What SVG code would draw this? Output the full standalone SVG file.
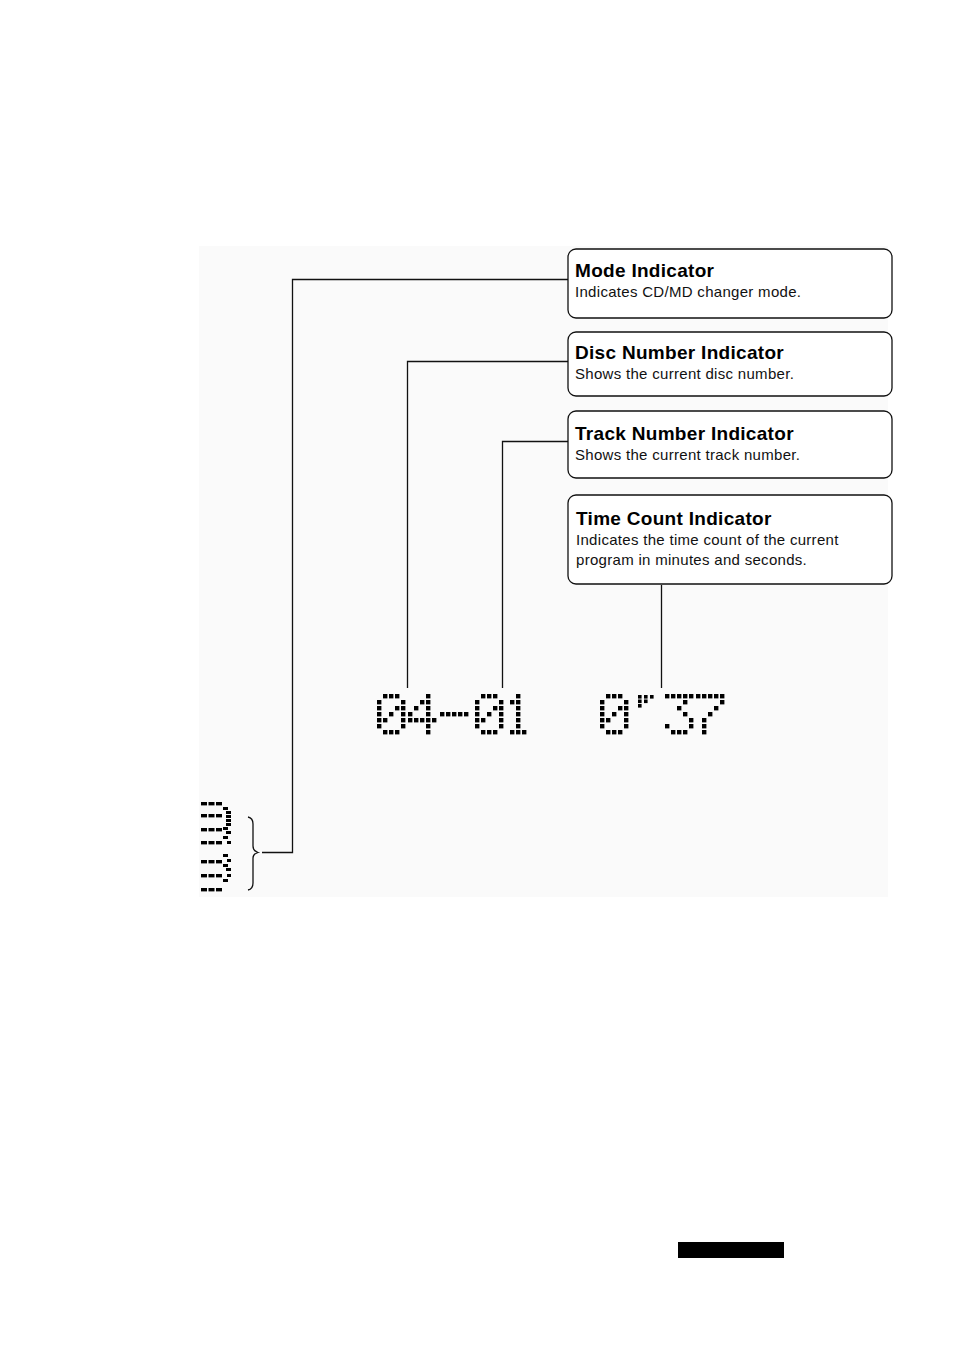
<svg xmlns="http://www.w3.org/2000/svg" width="954" height="1350" viewBox="0 0 954 1350">
<style>
.box{fill:#ffffff;stroke:#111;stroke-width:1.3}
.title{font-family:"Liberation Sans",Arial,sans-serif;font-weight:bold;font-size:19px;letter-spacing:0.3px;fill:#000}
.sub{font-family:"Liberation Sans",Arial,sans-serif;font-size:15px;letter-spacing:0.3px;fill:#111}
.ln{fill:none;stroke:#111;stroke-width:1.3}
.d{fill:#000}
</style>
<defs>
<rect id="p" class="d" width="4.4" height="4.4"/>
<rect id="q" class="d" width="3.6" height="3.6"/>
<g id="dash3"><rect class="d" x="0" y="0" width="6" height="3.4"/><rect class="d" x="7.5" y="0" width="6" height="3.4"/><rect class="d" x="15" y="0" width="6" height="3.4"/></g>
<g id="zero">
<use href="#p" x="6" y="0"/><use href="#p" x="12" y="0"/><use href="#p" x="18" y="0"/>
<use href="#p" x="0" y="6"/><use href="#p" x="24" y="6"/>
<use href="#p" x="0" y="12"/><use href="#p" x="18" y="12"/><use href="#p" x="24" y="12"/>
<use href="#p" x="0" y="18"/><use href="#p" x="12" y="18"/><use href="#p" x="24" y="18"/>
<use href="#p" x="0" y="24"/><use href="#p" x="6" y="24"/><use href="#p" x="24" y="24"/>
<use href="#p" x="0" y="30"/><use href="#p" x="24" y="30"/>
<use href="#p" x="6" y="36"/><use href="#p" x="12" y="36"/><use href="#p" x="18" y="36"/>
</g>
</defs>
<rect x="0" y="0" width="954" height="1350" fill="#ffffff"/>
<rect x="199" y="246" width="689" height="651" fill="#fafafa"/>

<g id="connectors">
<polyline class="ln" points="568,279.5 292.5,279.5 292.5,852.5 262,852.5"/>
<polyline class="ln" points="568,361.5 407.5,361.5 407.5,688"/>
<polyline class="ln" points="568,441.5 502.5,441.5 502.5,688"/>
<line class="ln" x1="661.5" y1="585" x2="661.5" y2="688"/>
<path class="ln" d="M248,817 Q253,818 253,824 L253,846 Q253,851 258,852.5 Q253,854 253,858 L253,883 Q253,889 248,890"/>
</g>

<g id="mode-indicator">
<rect class="box" x="568" y="249" width="324" height="69" rx="8"/>
<text class="title" x="575" y="277">Mode Indicator</text>
<text class="sub" x="575" y="297">Indicates CD/MD changer mode.</text>
</g>
<g id="disc-number-indicator">
<rect class="box" x="568" y="332" width="324" height="64" rx="8"/>
<text class="title" x="575" y="359">Disc Number Indicator</text>
<text class="sub" x="575" y="379">Shows the current disc number.</text>
</g>
<g id="track-number-indicator">
<rect class="box" x="568" y="411" width="324" height="67" rx="8"/>
<text class="title" x="575" y="440">Track Number Indicator</text>
<text class="sub" x="575" y="460">Shows the current track number.</text>
</g>
<g id="time-count-indicator">
<rect class="box" x="568" y="495" width="324" height="89" rx="8"/>
<text class="title" x="576" y="525">Time Count Indicator</text>
<text class="sub" x="576" y="545">Indicates the time count of the current</text>
<text class="sub" x="576" y="565">program in minutes and seconds.</text>
</g>

<g id="display">
<use href="#zero" x="377" y="694"/>
<g id="four">
<use href="#p" x="426" y="694"/>
<use href="#p" x="420" y="700"/><use href="#p" x="426" y="700"/>
<use href="#p" x="414" y="706"/><use href="#p" x="426" y="706"/>
<use href="#p" x="408" y="712"/><use href="#p" x="426" y="712"/>
<use href="#p" x="408" y="718"/><use href="#p" x="414" y="718"/><use href="#p" x="420" y="718"/><use href="#p" x="426" y="718"/><use href="#p" x="432" y="718"/>
<use href="#p" x="426" y="724"/>
<use href="#p" x="426" y="730"/>
</g>
<g id="hyphen">
<use href="#p" x="440" y="712"/><use href="#p" x="446" y="712"/><use href="#p" x="452" y="712"/><use href="#p" x="458" y="712"/><use href="#p" x="464" y="712"/>
</g>
<use href="#zero" x="475" y="694"/>
<g id="one">
<use href="#p" x="516" y="694"/>
<use href="#p" x="510" y="700"/><use href="#p" x="516" y="700"/>
<use href="#p" x="516" y="706"/><use href="#p" x="516" y="712"/><use href="#p" x="516" y="718"/><use href="#p" x="516" y="724"/>
<use href="#p" x="510" y="730"/><use href="#p" x="516" y="730"/><use href="#p" x="522" y="730"/>
</g>
<use href="#zero" x="600" y="694"/>
<g id="minute-mark">
<use href="#q" x="638" y="695"/><use href="#q" x="644" y="695"/><use href="#q" x="650" y="695"/>
<use href="#q" x="638" y="699.5"/><use href="#q" x="644" y="699.5"/>
<use href="#q" x="638" y="704"/>
</g>
<g id="three">
<use href="#p" x="665" y="694"/><use href="#p" x="671" y="694"/><use href="#p" x="677" y="694"/><use href="#p" x="683" y="694"/><use href="#p" x="689" y="694"/>
<use href="#p" x="683" y="700"/>
<use href="#p" x="677" y="706"/>
<use href="#p" x="683" y="712"/>
<use href="#p" x="689" y="718"/>
<use href="#p" x="665" y="724"/><use href="#p" x="689" y="724"/>
<use href="#p" x="671" y="730"/><use href="#p" x="677" y="730"/><use href="#p" x="683" y="730"/>
</g>
<g id="seven">
<use href="#p" x="696" y="694"/><use href="#p" x="702" y="694"/><use href="#p" x="708" y="694"/><use href="#p" x="714" y="694"/><use href="#p" x="720" y="694"/>
<use href="#p" x="720" y="700"/>
<use href="#p" x="714" y="706"/>
<use href="#p" x="708" y="712"/>
<use href="#p" x="702" y="718"/>
<use href="#p" x="702" y="724"/>
<use href="#p" x="702" y="730"/>
</g>
</g>

<g id="mode-icon">
<use href="#dash3" x="201" y="802"/>
<use href="#dash3" x="201" y="814"/>
<use href="#dash3" x="201" y="828"/>
<use href="#dash3" x="201" y="841"/>
<use href="#dash3" x="201" y="860"/>
<use href="#dash3" x="201" y="874"/>
<use href="#dash3" x="201" y="888"/>
<rect class="d" x="223" y="807" width="5" height="3"/>
<rect class="d" x="226" y="811" width="5" height="3"/>
<rect class="d" x="226" y="815" width="5" height="3"/>
<rect class="d" x="226" y="819" width="5" height="3"/>
<rect class="d" x="226" y="823" width="5" height="3"/>
<rect class="d" x="223" y="827" width="5" height="3"/>
<rect class="d" x="226" y="831" width="5" height="3"/>
<rect class="d" x="223" y="836" width="5" height="3"/>
<rect class="d" x="227" y="841" width="4" height="3"/>
<rect class="d" x="223" y="854" width="5" height="3"/>
<rect class="d" x="227" y="859" width="4" height="3"/>
<rect class="d" x="223" y="864" width="5" height="3"/>
<rect class="d" x="226" y="868" width="5" height="3"/>
<rect class="d" x="223" y="879" width="5" height="3"/>
<rect class="d" x="227" y="874" width="4" height="3"/>
</g>

<rect id="page-bar" x="678" y="1242" width="106" height="16" fill="#000"/>
</svg>
